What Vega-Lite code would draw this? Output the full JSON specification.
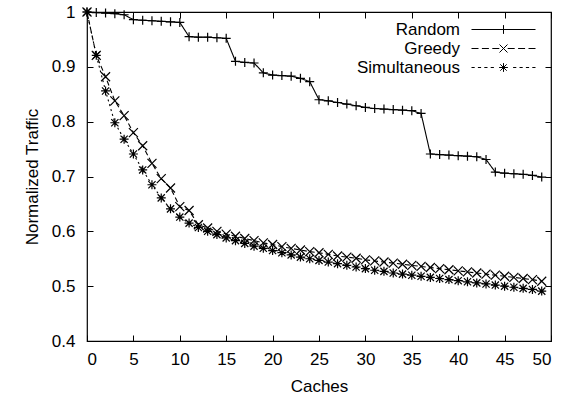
{
  "$schema": "https://vega.github.io/schema/vega-lite/v6.json",
  "width": 464,
  "height": 329,
  "autosize": "none",
  "padding": {"left": 87, "top": 12, "right": 23, "bottom": 58},
  "background": "white",
  "config": {
    "view": {"stroke": "black", "strokeWidth": 1.2},
    "font": "Liberation Sans",
    "axis": {"grid": false, "domain": false, "tickColor": "black", "tickSize": -6, "tickWidth": 1, "labelColor": "black", "labelFontSize": 17, "labelFont": "Liberation Sans", "titleFont": "Liberation Sans", "titleFontSize": 17, "titleFontWeight": "normal", "titleColor": "black"}
  },
  "resolve": {"scale": {"shape": "independent"}},
  "data": {"values": [
    {"s":"Random","x":0,"y":1.0},{"s":"Random","x":1,"y":0.999},{"s":"Random","x":2,"y":0.998},{"s":"Random","x":3,"y":0.997},{"s":"Random","x":4,"y":0.995},
    {"s":"Random","x":5,"y":0.986},{"s":"Random","x":6,"y":0.985},{"s":"Random","x":7,"y":0.984},{"s":"Random","x":8,"y":0.983},{"s":"Random","x":9,"y":0.982},
    {"s":"Random","x":10,"y":0.981},{"s":"Random","x":11,"y":0.955},{"s":"Random","x":12,"y":0.954},{"s":"Random","x":13,"y":0.954},{"s":"Random","x":14,"y":0.953},
    {"s":"Random","x":15,"y":0.952},{"s":"Random","x":16,"y":0.91},{"s":"Random","x":17,"y":0.908},{"s":"Random","x":18,"y":0.907},{"s":"Random","x":19,"y":0.889},
    {"s":"Random","x":20,"y":0.885},{"s":"Random","x":21,"y":0.884},{"s":"Random","x":22,"y":0.883},{"s":"Random","x":23,"y":0.879},{"s":"Random","x":24,"y":0.873},
    {"s":"Random","x":25,"y":0.84},{"s":"Random","x":26,"y":0.838},{"s":"Random","x":27,"y":0.835},{"s":"Random","x":28,"y":0.832},{"s":"Random","x":29,"y":0.829},
    {"s":"Random","x":30,"y":0.826},{"s":"Random","x":31,"y":0.824},{"s":"Random","x":32,"y":0.823},{"s":"Random","x":33,"y":0.822},{"s":"Random","x":34,"y":0.821},
    {"s":"Random","x":35,"y":0.82},{"s":"Random","x":36,"y":0.815},{"s":"Random","x":37,"y":0.741},{"s":"Random","x":38,"y":0.74},{"s":"Random","x":39,"y":0.739},
    {"s":"Random","x":40,"y":0.738},{"s":"Random","x":41,"y":0.737},{"s":"Random","x":42,"y":0.736},{"s":"Random","x":43,"y":0.731},{"s":"Random","x":44,"y":0.708},
    {"s":"Random","x":45,"y":0.706},{"s":"Random","x":46,"y":0.705},{"s":"Random","x":47,"y":0.704},{"s":"Random","x":48,"y":0.702},{"s":"Random","x":49,"y":0.699},
    {"s":"Greedy","x":0,"y":1.0},{"s":"Greedy","x":1,"y":0.921},{"s":"Greedy","x":2,"y":0.882},{"s":"Greedy","x":3,"y":0.838},{"s":"Greedy","x":4,"y":0.811},
    {"s":"Greedy","x":5,"y":0.78},{"s":"Greedy","x":6,"y":0.756},{"s":"Greedy","x":7,"y":0.724},{"s":"Greedy","x":8,"y":0.696},{"s":"Greedy","x":9,"y":0.679},
    {"s":"Greedy","x":10,"y":0.645},{"s":"Greedy","x":11,"y":0.638},{"s":"Greedy","x":12,"y":0.612},{"s":"Greedy","x":13,"y":0.606},{"s":"Greedy","x":14,"y":0.6},
    {"s":"Greedy","x":15,"y":0.595},{"s":"Greedy","x":16,"y":0.591},{"s":"Greedy","x":17,"y":0.587},{"s":"Greedy","x":18,"y":0.583},{"s":"Greedy","x":19,"y":0.579},
    {"s":"Greedy","x":20,"y":0.576},{"s":"Greedy","x":21,"y":0.572},{"s":"Greedy","x":22,"y":0.569},{"s":"Greedy","x":23,"y":0.566},{"s":"Greedy","x":24,"y":0.563},
    {"s":"Greedy","x":25,"y":0.561},{"s":"Greedy","x":26,"y":0.558},{"s":"Greedy","x":27,"y":0.555},{"s":"Greedy","x":28,"y":0.553},{"s":"Greedy","x":29,"y":0.551},
    {"s":"Greedy","x":30,"y":0.548},{"s":"Greedy","x":31,"y":0.546},{"s":"Greedy","x":32,"y":0.544},{"s":"Greedy","x":33,"y":0.542},{"s":"Greedy","x":34,"y":0.54},
    {"s":"Greedy","x":35,"y":0.538},{"s":"Greedy","x":36,"y":0.536},{"s":"Greedy","x":37,"y":0.534},{"s":"Greedy","x":38,"y":0.532},{"s":"Greedy","x":39,"y":0.53},
    {"s":"Greedy","x":40,"y":0.528},{"s":"Greedy","x":41,"y":0.526},{"s":"Greedy","x":42,"y":0.524},{"s":"Greedy","x":43,"y":0.522},{"s":"Greedy","x":44,"y":0.52},
    {"s":"Greedy","x":45,"y":0.518},{"s":"Greedy","x":46,"y":0.516},{"s":"Greedy","x":47,"y":0.514},{"s":"Greedy","x":48,"y":0.512},{"s":"Greedy","x":49,"y":0.509},
    {"s":"Simultaneous","x":0,"y":1.0},{"s":"Simultaneous","x":1,"y":0.921},{"s":"Simultaneous","x":2,"y":0.856},{"s":"Simultaneous","x":3,"y":0.798},{"s":"Simultaneous","x":4,"y":0.768},
    {"s":"Simultaneous","x":5,"y":0.741},{"s":"Simultaneous","x":6,"y":0.712},{"s":"Simultaneous","x":7,"y":0.685},{"s":"Simultaneous","x":8,"y":0.661},{"s":"Simultaneous","x":9,"y":0.641},
    {"s":"Simultaneous","x":10,"y":0.626},{"s":"Simultaneous","x":11,"y":0.615},{"s":"Simultaneous","x":12,"y":0.607},{"s":"Simultaneous","x":13,"y":0.6},{"s":"Simultaneous","x":14,"y":0.594},
    {"s":"Simultaneous","x":15,"y":0.588},{"s":"Simultaneous","x":16,"y":0.583},{"s":"Simultaneous","x":17,"y":0.578},{"s":"Simultaneous","x":18,"y":0.573},{"s":"Simultaneous","x":19,"y":0.569},
    {"s":"Simultaneous","x":20,"y":0.565},{"s":"Simultaneous","x":21,"y":0.561},{"s":"Simultaneous","x":22,"y":0.557},{"s":"Simultaneous","x":23,"y":0.553},{"s":"Simultaneous","x":24,"y":0.55},
    {"s":"Simultaneous","x":25,"y":0.547},{"s":"Simultaneous","x":26,"y":0.544},{"s":"Simultaneous","x":27,"y":0.541},{"s":"Simultaneous","x":28,"y":0.538},{"s":"Simultaneous","x":29,"y":0.535},
    {"s":"Simultaneous","x":30,"y":0.532},{"s":"Simultaneous","x":31,"y":0.529},{"s":"Simultaneous","x":32,"y":0.527},{"s":"Simultaneous","x":33,"y":0.524},{"s":"Simultaneous","x":34,"y":0.522},
    {"s":"Simultaneous","x":35,"y":0.52},{"s":"Simultaneous","x":36,"y":0.518},{"s":"Simultaneous","x":37,"y":0.516},{"s":"Simultaneous","x":38,"y":0.514},{"s":"Simultaneous","x":39,"y":0.512},
    {"s":"Simultaneous","x":40,"y":0.51},{"s":"Simultaneous","x":41,"y":0.508},{"s":"Simultaneous","x":42,"y":0.506},{"s":"Simultaneous","x":43,"y":0.504},{"s":"Simultaneous","x":44,"y":0.502},
    {"s":"Simultaneous","x":45,"y":0.5},{"s":"Simultaneous","x":46,"y":0.498},{"s":"Simultaneous","x":47,"y":0.496},{"s":"Simultaneous","x":48,"y":0.494},{"s":"Simultaneous","x":49,"y":0.491}
  ]},
  "layer": [
    {
      "mark": {"type": "line", "color": "black", "strokeWidth": 1.1},
      "encoding": {
        "x": {"field": "x", "type": "quantitative", "scale": {"domain": [0, 50], "nice": false, "zero": false},
              "axis": {"orient": "bottom", "values": [0,5,10,15,20,25,30,35,40,45,50], "title": "Caches", "labelPadding": 16, "titlePadding": 11}},
        "y": {"field": "y", "type": "quantitative", "scale": {"domain": [0.4, 1], "nice": false, "zero": false},
              "axis": {"orient": "left", "values": [0.4,0.5,0.6,0.7,0.8,0.9,1], "format": "~g", "title": "Normalized Traffic", "labelPadding": 18, "titlePadding": 10}},
        "strokeDash": {"field": "s", "type": "nominal", "scale": {"domain": ["Greedy","Random","Simultaneous"], "range": [[5,3],[1,0],[2,3]]}, "legend": null},
        "detail": {"field": "s"}
      }
    },
    {
      "mark": {"type": "point", "filled": false, "stroke": "black", "strokeWidth": 1.2, "size": 81, "opacity": 1},
      "encoding": {
        "x": {"field": "x", "type": "quantitative", "axis": {"orient": "top", "values": [0,5,10,15,20,25,30,35,40,45,50], "labels": false, "title": null}},
        "y": {"field": "y", "type": "quantitative", "axis": {"orient": "right", "values": [0.4,0.5,0.6,0.7,0.8,0.9,1], "labels": false, "title": null}},
        "shape": {"field": "s", "type": "nominal",
          "scale": {"domain": ["Random","Greedy","Simultaneous"], "range": ["M-1,0H1M0,-1V1", "M-1,-1L1,1M-1,1L1,-1", "M-1,0H1M0,-1V1M-0.8,-0.8L0.8,0.8M-0.8,0.8L0.8,-0.8"]},
          "legend": null
        }
      }
    },
    {
      "mark": {"type": "point", "filled": false, "stroke": "black", "strokeWidth": 1, "size": 64, "opacity": 0},
      "encoding": {
        "x": {"field": "x", "type": "quantitative", "axis": null},
        "y": {"field": "y", "type": "quantitative", "axis": null},
        "shape": {"field": "s", "type": "nominal",
          "scale": {"domain": ["Random","Greedy","Simultaneous"], "range": [
            "M-8,0H8M0,-1.1V1.1",
            "M-8,0H-6.25M-5.4,0H-3.65M-2.8,0H-1.05M1.05,0H2.8M3.65,0H5.4M6.25,0H8M-1,-1L1,1M-1,1L1,-1",
            "M-8,0H-7.2M-6.4,0H-5.6M-4.8,0H-4M-3.2,0H-2.4M2.4,0H3.2M4,0H4.8M5.6,0H6.4M7.2,0H8M-1.1,0H1.1M0,-1.1V1.1M-0.8,-0.8L0.8,0.8M-0.8,0.8L0.8,-0.8"]},
          "legend": {
            "orient": "none", "legendX": 408, "legendY": 9, "title": null,
            "symbolSize": 64, "symbolOpacity": 1, "symbolStrokeColor": "black", "symbolFillColor": "transparent", "symbolStrokeWidth": 1,
            "labelAlign": "right", "labelOffset": -52, "labelFontSize": 17, "labelFont": "Liberation Sans", "labelColor": "black", "rowPadding": 1
          }
        }
      }
    }
  ]
}
